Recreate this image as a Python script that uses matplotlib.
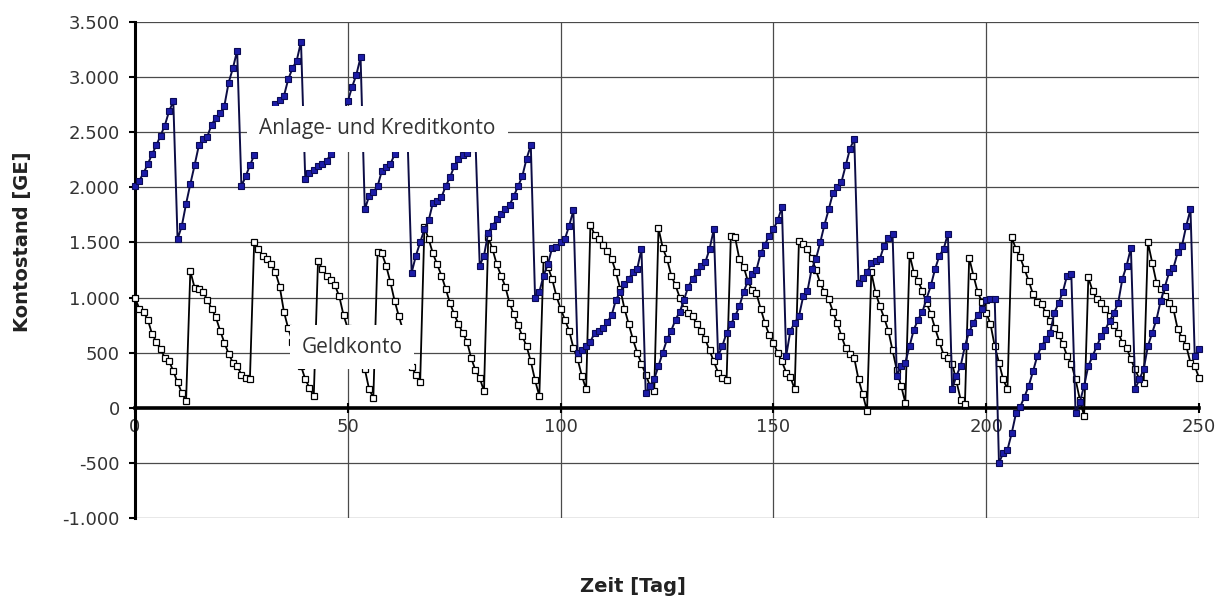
import matplotlib.pyplot as plt

# Tag 0..250
days = list(range(251))

anlage = [
    2010, 2060, 2130, 2210, 2300, 2380, 2470, 2560, 2690, 2780,
    1530, 1650, 1850, 2030, 2200, 2380, 2440, 2460, 2570, 2630,
    2670, 2740, 2950, 3080, 3240, 2010, 2100, 2200, 2290, 2400,
    2500, 2600, 2700, 2760, 2790, 2830, 2980, 3080, 3150, 3320,
    2080, 2130, 2160, 2190, 2210, 2240, 2300, 2420, 2550, 2680,
    2780, 2910, 3020, 3180, 1800, 1920, 1960, 2010, 2150, 2180,
    2210, 2300, 2370, 2440, 2500, 1225, 1380, 1500, 1620, 1700,
    1860, 1880, 1910, 2010, 2090, 2190, 2260, 2290, 2310, 2360,
    2420, 1290, 1380, 1590, 1650, 1710, 1760, 1800, 1840, 1920,
    2010, 2100, 2260, 2380, 1000, 1050, 1200, 1300, 1450, 1460,
    1500, 1530, 1650, 1790, 500, 520, 560, 600, 680, 700,
    720, 780, 840, 980, 1050, 1120, 1170, 1230, 1260, 1440,
    130, 200, 260, 380, 500, 620, 700, 800, 870, 980,
    1100, 1170, 1230, 1290, 1320, 1440, 1620, 470, 560, 680,
    760, 830, 920, 1050, 1150, 1210, 1250, 1400, 1480, 1560,
    1620, 1700, 1820, 470, 700, 770, 830, 1010, 1060, 1260,
    1350, 1500, 1660, 1800, 1950, 2000, 2050, 2200, 2350, 2440,
    1130, 1180, 1230, 1310, 1330, 1350, 1470, 1540, 1575, 290,
    380, 410, 560, 710, 800, 870, 990, 1110, 1260, 1380,
    1440, 1580, 170, 290, 380, 560, 690, 770, 840, 900,
    980, 990, 990, -500, -410, -380, -230, -50, 10, 100,
    200, 330, 470, 560, 620, 680, 860, 950, 1050, 1200,
    1210, -50, 50, 200, 380, 470, 560, 650, 710, 790,
    860, 950, 1170, 1290, 1450, 170, 260, 350, 560, 680,
    800, 970, 1100, 1230, 1270, 1410, 1470, 1650, 1800, 470,
    530,
]

geld = [
    1000, 900, 870, 800, 670, 600, 530, 455, 424, 333,
    230, 136, 60, 1240, 1090, 1080, 1050, 980, 900, 820,
    700, 590, 490, 410, 380, 300, 270, 257, 1500, 1440,
    1380, 1350, 1300, 1230, 1100, 870, 720, 600, 480, 380,
    260, 180, 105, 1330, 1260, 1200, 1160, 1110, 1010, 840,
    720, 620, 520, 430, 350, 170, 90, 1410, 1400, 1290,
    1140, 970, 830, 700, 550, 370, 300, 230, 1640, 1530,
    1400, 1300, 1200, 1080, 950, 850, 760, 680, 600, 450,
    340, 270, 150, 1545, 1440, 1300, 1200, 1100, 950, 850,
    750, 650, 560, 420, 250, 105, 1350, 1280, 1170, 1015,
    900, 800, 700, 545, 440, 290, 166, 1660, 1570, 1530,
    1480, 1420, 1350, 1230, 1080, 900, 760, 620, 500, 400,
    300, 200, 150, 1630, 1450, 1350, 1200, 1110, 1000, 900,
    860, 830, 760, 700, 620, 520, 420, 320, 270, 250,
    1560, 1545, 1350, 1280, 1150, 1070, 1040, 900, 770, 660,
    590, 500, 420, 320, 280, 166, 1515, 1485, 1440, 1360,
    1250, 1130, 1050, 985, 870, 770, 650, 540, 490, 450,
    257, 121, -30, 1230, 1045, 924, 818, 700, 520, 340,
    200, 45, 1390, 1227, 1151, 1060, 950, 850, 720, 600,
    480, 450, 400, 242, 75, 30, 1360, 1200, 1050, 960,
    864, 760, 560, 410, 257, 166, 1545, 1440, 1364, 1257,
    1150, 1030, 960, 939, 864, 790, 720, 660, 580, 470,
    400, 257, 75, -76, 1182, 1060, 985, 950, 900, 833,
    750, 682, 591, 545, 439, 348, 257, 227, 1500, 1318,
    1136, 1076, 1015, 950, 894, 712, 636, 560, 409, 378,
    273,
]

x_ticks = [0, 50, 100, 150, 200, 250]
y_ticks = [-1000, -500, 0, 500, 1000, 1500, 2000, 2500, 3000, 3500]
y_ticklabels = ['-1.000', '-500', '0', '500', '1.000', '1.500', '2.000',
                '2.500', '3.000', '3.500']


def plot():
    fig = plt.figure(figsize=(12.3, 6.01), dpi=100)
    ax = fig.add_axes([135 / 1230, 83 / 601, 1064 / 1230, 496 / 601])

    ax.plot(days, geld, color='black', lw=1.3, marker='s', ms=3.7,
            mfc='white', mec='black', mew=0.9, zorder=3, clip_on=False)
    ax.plot(days, anlage, color='#0c0c45', lw=1.4, marker='s', ms=4.5,
            mfc='#1c1ca8', mec='#0a0a55', mew=0.8, zorder=4, clip_on=False)

    ax.set_xlim(0, 250)
    ax.set_ylim(-1000, 3500)
    ax.set_xticks(x_ticks)
    ax.set_yticks(y_ticks)
    ax.set_yticklabels(y_ticklabels)
    ax.grid(True, color='#4a4a4a', lw=0.9, zorder=1)
    ax.set_axisbelow(True)

    ax.spines['top'].set_visible(False)
    ax.spines['right'].set_visible(False)
    ax.spines['bottom'].set_position(('data', 0))
    ax.spines['bottom'].set_linewidth(2.6)
    ax.spines['left'].set_linewidth(2.2)
    ax.spines['bottom'].set_zorder(2)

    ax.tick_params(axis='y', direction='out', length=4, width=1.5,
                   pad=7, labelsize=13, labelcolor='#333333')
    ax.tick_params(axis='x', direction='inout', length=7, width=1.5,
                   pad=4, labelsize=13, labelcolor='#333333')

    ax.text(57, 2530, 'Anlage- und Kreditkonto', family='Open Sans',
            fontsize=15, color='#333333', ha='center', va='center',
            bbox=dict(boxstyle='square,pad=0.6', fc='white', ec='none'),
            zorder=6)
    ax.text(51, 548, 'Geldkonto', family='Open Sans', fontsize=15,
            color='#333333', ha='center', va='center',
            bbox=dict(boxstyle='square,pad=0.55', fc='white', ec='none'),
            zorder=6)

    fig.text(633 / 1230, 1 - 586 / 601, 'Zeit [Tag]', fontsize=14,
             fontweight='bold', color='#222222', ha='center', va='center')
    fig.text(23 / 1230, 1 - 242 / 601, 'Kontostand [GE]', fontsize=14,
             fontweight='bold', color='#222222', ha='center', va='center',
             rotation=90)

    fig.savefig('out.png', dpi=100)
    plt.close(fig)


if __name__ == "__main__":
    plot()
